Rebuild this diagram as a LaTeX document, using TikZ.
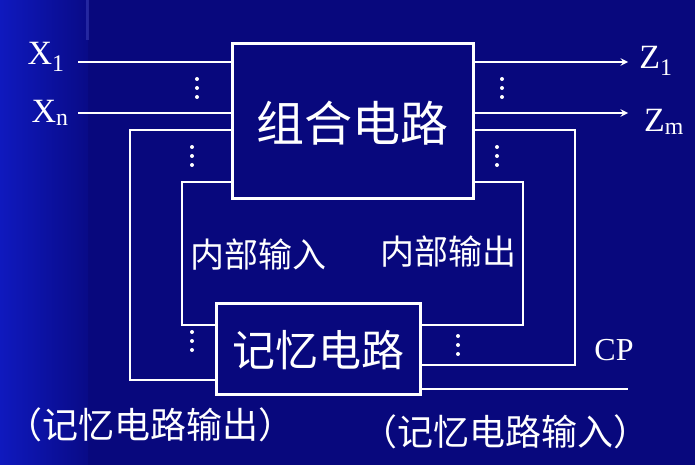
\documentclass[tikz,border=0pt]{standalone}
\usepackage{fontspec}
\setmainfont{Liberation Serif}
\newfontfamily\cjk{Noto Sans CJK SC}[Scale=1]
\definecolor{navy}{RGB}{8,8,125}
\definecolor{lblue}{RGB}{15,25,190}
\begin{document}
\begin{tikzpicture}[x=1pt,y=-1pt,
  wire/.style={white,line width=2.2pt},
  blk/.style={draw=white,line width=3pt,fill=navy},
  lab/.style={white,inner sep=0pt},
  dt/.style={white,fill=white,circle,inner sep=0pt,minimum size=4pt}]
\useasboundingbox (0,0) rectangle (695,465);
\fill[navy] (0,0) rectangle (695,465);
\shade[left color=lblue,right color=navy!85!lblue] (0,0) rectangle (88,465);
\fill[lblue!70!white,opacity=0.35] (86,0) rectangle (89,40);
% boxes
\node[blk,minimum width=241pt,minimum height=154pt] (cl) at (352.5,121) {};
\node[lab,font=\cjk\fontsize{48}{48}\selectfont] (clt) at (352,123) {组合电路};
\node[blk,minimum width=204pt,minimum height=91pt] (ml) at (318,348.5) {};
\node[lab,font=\cjk\fontsize{43}{43}\selectfont] (mlt) at (318,350) {记忆电路};
% coordinates
\coordinate (x1) at (78,62); \coordinate (xn) at (78,113);
\coordinate (z1) at (628,62); \coordinate (zm) at (628,113);
\coordinate (cp) at (628,389);
% inputs / outputs
\draw[wire] (x1) -- (x1 -| cl.west);
\draw[wire] (xn) -- (xn -| cl.west);
\draw[wire,-stealth] (z1 -| cl.east) -- (z1);
\draw[wire,-stealth] (zm -| cl.east) -- (zm);
% loops
\draw[wire] (cl.west |- 0,130) -- (130,130) -- (130,380) -- (ml.west |- 0,380);
\draw[wire] (cl.west |- 0,182) -- (182,182) -- (182,325) -- (ml.west |- 0,325);
\draw[wire] (cl.east |- 0,130) -- (575,130) -- (575,365) -- (ml.east |- 0,365);
\draw[wire] (cl.east |- 0,182) -- (523,182) -- (523,325) -- (ml.east |- 0,325);
\draw[wire] (ml.east |- cp) -- (cp);
% dots
\foreach \x/\y/\n in {197/88/d1,192/156/d2,192/341/d3,502/88/d4,497/156/d5,458/345/d6}{
  \node[dt] (\n a) at (\x,\y-9) {};
  \node[dt] (\n b) at (\x,\y) {};
  \node[dt] (\n c) at (\x,\y+9) {};}
% labels
\node[lab,font=\fontsize{34}{34}\selectfont] (lx1) at (46,57) {X\textsubscript{1}};
\node[lab,font=\fontsize{34}{34}\selectfont] (lxn) at (50,113) {X\textsubscript{n}};
\node[lab,font=\fontsize{34}{34}\selectfont] (lz1) at (656,61) {Z\textsubscript{1}};
\node[lab,font=\fontsize{34}{34}\selectfont] (lzm) at (664,122) {Z\textsubscript{m}};
\node[lab,font=\fontsize{32}{32}\selectfont] (lcp) at (614,350) {CP};
\node[lab,font=\cjk\fontsize{34}{34}\selectfont] (ni) at (258,255) {内部输入};
\node[lab,font=\cjk\fontsize{34}{34}\selectfont] (no) at (448,252) {内部输出};
\node[lab,font=\cjk\fontsize{36}{36}\selectfont] (mo) at (150,425) {（记忆电路输出）};
\node[lab,font=\cjk\fontsize{36}{36}\selectfont] (mi) at (505,432) {（记忆电路输入）};
\end{tikzpicture}
\end{document}
